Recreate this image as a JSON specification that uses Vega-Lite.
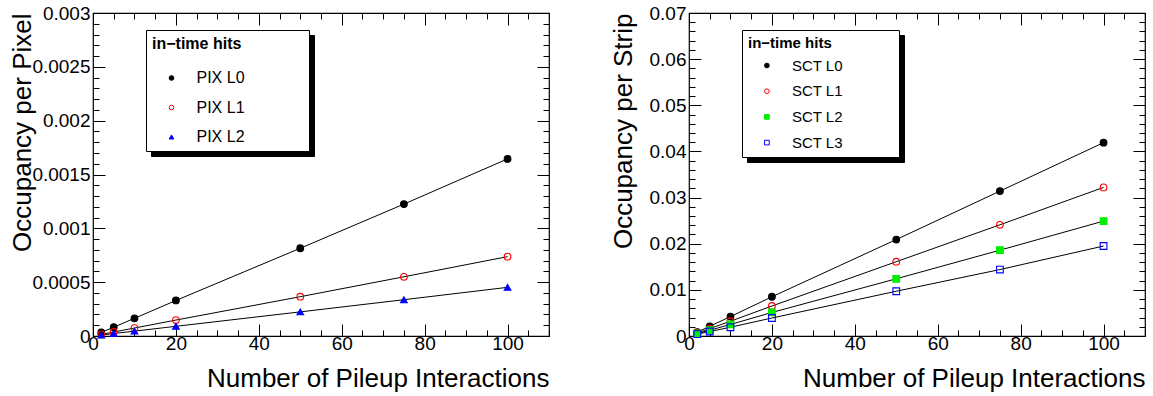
{
  "$schema": "https://vega.github.io/schema/vega-lite/v6.json",
  "padding": {"left": 8, "top": 3, "right": 4, "bottom": 2},
  "spacing": 58,
  "resolve": {
    "scale": {"fill": "independent", "stroke": "independent", "shape": "independent", "color": "independent"},
    "legend": {"fill": "independent", "stroke": "independent", "shape": "independent", "color": "independent"}
  },
  "config": {
    "view": {"stroke": "black", "strokeWidth": 1.2},
    "font": "Liberation Sans",
    "axis": {
      "labelFont": "Liberation Sans", "titleFont": "Liberation Sans",
      "labelFontSize": 19, "titleFontSize": 26, "titleFontWeight": "normal",
      "labelColor": "black", "titleColor": "black", "tickColor": "black", "tickWidth": 1,
      "domain": false, "grid": false, "labelFlush": false, "labelOverlap": false, "zindex": 1
    },
    "legend": {
      "orient": "none", "fillColor": "white", "strokeColor": "black", "padding": 6,
      "titleFont": "Liberation Sans", "titleFontWeight": "bold", "titleColor": "black",
      "labelFont": "Liberation Sans", "labelColor": "black",
      "symbolSize": 22, "symbolStrokeWidth": 1
    }
  },
  "datasets": {
    "pix": [
      {"n": 2, "occ": 0.000033, "series": "PIX L0"},
      {"n": 5, "occ": 0.000082, "series": "PIX L0"},
      {"n": 10, "occ": 0.000164, "series": "PIX L0"},
      {"n": 20, "occ": 0.00033, "series": "PIX L0"},
      {"n": 50, "occ": 0.000815, "series": "PIX L0"},
      {"n": 75, "occ": 0.001225, "series": "PIX L0"},
      {"n": 100, "occ": 0.001645, "series": "PIX L0"},
      {"n": 2, "occ": 0.000015, "series": "PIX L1"},
      {"n": 5, "occ": 0.000037, "series": "PIX L1"},
      {"n": 10, "occ": 0.000074, "series": "PIX L1"},
      {"n": 20, "occ": 0.000148, "series": "PIX L1"},
      {"n": 50, "occ": 0.000365, "series": "PIX L1"},
      {"n": 75, "occ": 0.00055, "series": "PIX L1"},
      {"n": 100, "occ": 0.000737, "series": "PIX L1"},
      {"n": 2, "occ": 0.000009, "series": "PIX L2"},
      {"n": 5, "occ": 0.000023, "series": "PIX L2"},
      {"n": 10, "occ": 0.000045, "series": "PIX L2"},
      {"n": 20, "occ": 0.00009, "series": "PIX L2"},
      {"n": 50, "occ": 0.000224, "series": "PIX L2"},
      {"n": 75, "occ": 0.000337, "series": "PIX L2"},
      {"n": 100, "occ": 0.000452, "series": "PIX L2"}
    ],
    "sct": [
      {"n": 2, "occ": 0.00085, "series": "SCT L0"},
      {"n": 5, "occ": 0.0021, "series": "SCT L0"},
      {"n": 10, "occ": 0.0042, "series": "SCT L0"},
      {"n": 20, "occ": 0.0085, "series": "SCT L0"},
      {"n": 50, "occ": 0.0209, "series": "SCT L0"},
      {"n": 75, "occ": 0.0314, "series": "SCT L0"},
      {"n": 100, "occ": 0.0419, "series": "SCT L0"},
      {"n": 2, "occ": 0.00065, "series": "SCT L1"},
      {"n": 5, "occ": 0.0016, "series": "SCT L1"},
      {"n": 10, "occ": 0.0032, "series": "SCT L1"},
      {"n": 20, "occ": 0.0065, "series": "SCT L1"},
      {"n": 50, "occ": 0.0161, "series": "SCT L1"},
      {"n": 75, "occ": 0.0241, "series": "SCT L1"},
      {"n": 100, "occ": 0.0322, "series": "SCT L1"},
      {"n": 2, "occ": 0.0005, "series": "SCT L2"},
      {"n": 5, "occ": 0.00125, "series": "SCT L2"},
      {"n": 10, "occ": 0.0025, "series": "SCT L2"},
      {"n": 20, "occ": 0.0051, "series": "SCT L2"},
      {"n": 50, "occ": 0.0124, "series": "SCT L2"},
      {"n": 75, "occ": 0.0186, "series": "SCT L2"},
      {"n": 100, "occ": 0.0249, "series": "SCT L2"},
      {"n": 2, "occ": 0.0004, "series": "SCT L3"},
      {"n": 5, "occ": 0.00097, "series": "SCT L3"},
      {"n": 10, "occ": 0.0019, "series": "SCT L3"},
      {"n": 20, "occ": 0.0039, "series": "SCT L3"},
      {"n": 50, "occ": 0.0097, "series": "SCT L3"},
      {"n": 75, "occ": 0.0144, "series": "SCT L3"},
      {"n": 100, "occ": 0.0195, "series": "SCT L3"}
    ]
  },
  "hconcat": [
    {
      "width": 456,
      "height": 323,
      "data": {"name": "pix"},
      "layer": [
        {
          "mark": {"type": "line", "color": "black", "strokeWidth": 1},
          "encoding": {
            "x": {
              "field": "n", "type": "quantitative",
              "scale": {"domain": [0, 110], "nice": false, "zero": false},
              "axis": {
                "values": [0,5,10,15,20,25,30,35,40,45,50,55,60,65,70,75,80,85,90,95,100,105,110],
                "tickSize": {"condition": {"test": "datum.value % 20 === 0", "value": -12}, "value": -6},
                "labelExpr": "datum.value % 20 === 0 && datum.value <= 100 ? format(datum.value, 'd') : ''",
                "labelPadding": 10.5,
                "title": "Number of Pileup Interactions",
                "titleAnchor": "end", "titleAlign": "right", "titleBaseline": "alphabetic",
                "titleX": 456, "titleY": 50
              }
            },
            "y": {
              "field": "occ", "type": "quantitative",
              "scale": {"domain": [0, 0.003], "nice": false, "zero": false},
              "axis": {
                "values": [0,0.0001,0.0002,0.0003,0.0004,0.0005,0.0006,0.0007,0.0008,0.0009,0.001,0.0011,0.0012,0.0013,0.0014,0.0015,0.0016,0.0017,0.0018,0.0019,0.002,0.0021,0.0022,0.0023,0.0024,0.0025,0.0026,0.0027,0.0028,0.0029,0.003],
                "tickSize": {"condition": {"test": "abs(datum.value*2000 - round(datum.value*2000)) < 1e-6", "value": -12}, "value": -6},
                "labelExpr": "abs(datum.value*2000 - round(datum.value*2000)) < 1e-6 ? format(datum.value, '~g') : ''",
                "labelPadding": 15,
                "title": "Occupancy per Pixel",
                "titleAnchor": "end", "titleAlign": "right", "titleBaseline": "alphabetic",
                "titleAngle": 270, "titleX": -63, "titleY": 0
              }
            },
            "detail": {"field": "series"}
          }
        },
        {
          "mark": {"type": "point", "filled": true, "size": 45, "strokeWidth": 1.1, "opacity": 1},
          "encoding": {
            "x": {"field": "n", "type": "quantitative", "axis": null},
            "y": {"field": "occ", "type": "quantitative", "axis": null},
            "fill": {
              "field": "series", "type": "nominal",
              "scale": {"domain": ["PIX L0", "PIX L1", "PIX L2"], "range": ["black", "transparent", "blue"]},
              "legend": {"title": "in−time hits", "legendX": 53, "legendY": 17, "titleFontSize": 16, "labelFontSize": 16, "rowPadding": 13.5, "titlePadding": 18, "symbolOffset": 11.5, "labelOffset": 17, "zindex": 3,
                "labelExpr": "datum.label + '\u00a0\u00a0\u00a0\u00a0\u00a0\u00a0\u00a0\u00a0\u00a0\u00a0\u00a0\u00a0\u00a0\u200b'"}
            },
            "stroke": {
              "field": "series", "type": "nominal",
              "scale": {"domain": ["PIX L0", "PIX L1", "PIX L2"], "range": ["black", "red", "blue"]},
              "legend": {"title": "in−time hits", "legendX": 53, "legendY": 17, "titleFontSize": 16, "labelFontSize": 16, "rowPadding": 13.5, "titlePadding": 18, "symbolOffset": 11.5, "labelOffset": 17, "zindex": 3,
                "labelExpr": "datum.label + '\u00a0\u00a0\u00a0\u00a0\u00a0\u00a0\u00a0\u00a0\u00a0\u00a0\u00a0\u00a0\u00a0\u200b'"}
            },
            "shape": {
              "field": "series", "type": "nominal",
              "scale": {"domain": ["PIX L0", "PIX L1", "PIX L2"], "range": ["circle", "circle", "triangle-up"]},
              "legend": {"title": "in−time hits", "legendX": 53, "legendY": 17, "titleFontSize": 16, "labelFontSize": 16, "rowPadding": 13.5, "titlePadding": 18, "symbolOffset": 11.5, "labelOffset": 17, "zindex": 3,
                "labelExpr": "datum.label + '\u00a0\u00a0\u00a0\u00a0\u00a0\u00a0\u00a0\u00a0\u00a0\u00a0\u00a0\u00a0\u00a0\u200b'"}
            }
          }
        },
        {
          "mark": {"type": "point", "size": 45, "opacity": 0},
          "encoding": {
            "x": {
              "field": "n", "type": "quantitative",
              "axis": {
                "orient": "top", "labels": false, "title": null,
                "values": [0,5,10,15,20,25,30,35,40,45,50,55,60,65,70,75,80,85,90,95,100,105,110],
                "tickSize": {"condition": {"test": "datum.value % 20 === 0", "value": -12}, "value": -6}
              }
            },
            "y": {
              "field": "occ", "type": "quantitative",
              "axis": {
                "orient": "right", "labels": false, "title": null,
                "values": [0,0.0001,0.0002,0.0003,0.0004,0.0005,0.0006,0.0007,0.0008,0.0009,0.001,0.0011,0.0012,0.0013,0.0014,0.0015,0.0016,0.0017,0.0018,0.0019,0.002,0.0021,0.0022,0.0023,0.0024,0.0025,0.0026,0.0027,0.0028,0.0029,0.003],
                "tickSize": {"condition": {"test": "abs(datum.value*2000 - round(datum.value*2000)) < 1e-6", "value": -12}, "value": -6}
              }
            },
            "color": {
              "field": "series", "type": "nominal",
              "scale": {"range": ["black", "black", "black"]},
              "legend": {"title": "in−time hits", "legendX": 58, "legendY": 22, "titleFontSize": 16, "labelFontSize": 16, "rowPadding": 13.5, "titlePadding": 18, "symbolOffset": 11.5, "labelOffset": 17, "zindex": 2,
                "fillColor": "black", "strokeColor": "black", "titleColor": "black", "labelColor": "black",
                "labelExpr": "datum.label + '\u00a0\u00a0\u00a0\u00a0\u00a0\u00a0\u00a0\u00a0\u00a0\u00a0\u00a0\u00a0\u00a0\u200b'"}
            }
          }
        }
      ],
      "resolve": {"axis": {"x": "independent", "y": "independent"}}
    },
    {
      "width": 456,
      "height": 323,
      "data": {"name": "sct"},
      "layer": [
        {
          "mark": {"type": "line", "color": "black", "strokeWidth": 1},
          "encoding": {
            "x": {
              "field": "n", "type": "quantitative",
              "scale": {"domain": [0, 110], "nice": false, "zero": false},
              "axis": {
                "values": [0,5,10,15,20,25,30,35,40,45,50,55,60,65,70,75,80,85,90,95,100,105,110],
                "tickSize": {"condition": {"test": "datum.value % 20 === 0", "value": -12}, "value": -6},
                "labelExpr": "datum.value % 20 === 0 && datum.value <= 100 ? format(datum.value, 'd') : ''",
                "labelPadding": 10.5,
                "title": "Number of Pileup Interactions",
                "titleAnchor": "end", "titleAlign": "right", "titleBaseline": "alphabetic",
                "titleX": 456, "titleY": 50
              }
            },
            "y": {
              "field": "occ", "type": "quantitative",
              "scale": {"domain": [0, 0.07], "nice": false, "zero": false},
              "axis": {
                "values": [0,0.002,0.004,0.006,0.008,0.01,0.012,0.014,0.016,0.018,0.02,0.022,0.024,0.026,0.028,0.03,0.032,0.034,0.036,0.038,0.04,0.042,0.044,0.046,0.048,0.05,0.052,0.054,0.056,0.058,0.06,0.062,0.064,0.066,0.068,0.07],
                "tickSize": {"condition": {"test": "abs(datum.value*100 - round(datum.value*100)) < 1e-6", "value": -12}, "value": -6},
                "labelExpr": "abs(datum.value*100 - round(datum.value*100)) < 1e-6 ? format(datum.value, '~g') : ''",
                "labelPadding": 15,
                "title": "Occupancy per Strip",
                "titleAnchor": "end", "titleAlign": "right", "titleBaseline": "alphabetic",
                "titleAngle": 270, "titleX": -58, "titleY": 0
              }
            },
            "detail": {"field": "series"}
          }
        },
        {
          "mark": {"type": "point", "filled": true, "size": 45, "strokeWidth": 1.1, "opacity": 1},
          "encoding": {
            "x": {"field": "n", "type": "quantitative", "axis": null},
            "y": {"field": "occ", "type": "quantitative", "axis": null},
            "fill": {
              "field": "series", "type": "nominal",
              "scale": {"domain": ["SCT L0", "SCT L1", "SCT L2", "SCT L3"], "range": ["black", "transparent", "#00ee00", "transparent"]},
              "legend": {"title": "in−time hits", "legendX": 53, "legendY": 17, "titleFontSize": 15, "labelFontSize": 15, "rowPadding": 9.7, "titlePadding": 7, "symbolOffset": 11.4, "labelOffset": 17.5, "zindex": 3,
                "labelExpr": "datum.label + '\u00a0\u00a0\u00a0\u00a0\u00a0\u00a0\u00a0\u00a0\u00a0\u00a0\u00a0\u00a0\u200b'"}
            },
            "stroke": {
              "field": "series", "type": "nominal",
              "scale": {"domain": ["SCT L0", "SCT L1", "SCT L2", "SCT L3"], "range": ["black", "red", "#00ee00", "blue"]},
              "legend": {"title": "in−time hits", "legendX": 53, "legendY": 17, "titleFontSize": 15, "labelFontSize": 15, "rowPadding": 9.7, "titlePadding": 7, "symbolOffset": 11.4, "labelOffset": 17.5, "zindex": 3,
                "labelExpr": "datum.label + '\u00a0\u00a0\u00a0\u00a0\u00a0\u00a0\u00a0\u00a0\u00a0\u00a0\u00a0\u00a0\u200b'"}
            },
            "shape": {
              "field": "series", "type": "nominal",
              "scale": {"domain": ["SCT L0", "SCT L1", "SCT L2", "SCT L3"], "range": ["circle", "circle", "square", "square"]},
              "legend": {"title": "in−time hits", "legendX": 53, "legendY": 17, "titleFontSize": 15, "labelFontSize": 15, "rowPadding": 9.7, "titlePadding": 7, "symbolOffset": 11.4, "labelOffset": 17.5, "zindex": 3,
                "labelExpr": "datum.label + '\u00a0\u00a0\u00a0\u00a0\u00a0\u00a0\u00a0\u00a0\u00a0\u00a0\u00a0\u00a0\u200b'"}
            }
          }
        },
        {
          "mark": {"type": "point", "size": 45, "opacity": 0},
          "encoding": {
            "x": {
              "field": "n", "type": "quantitative",
              "axis": {
                "orient": "top", "labels": false, "title": null,
                "values": [0,5,10,15,20,25,30,35,40,45,50,55,60,65,70,75,80,85,90,95,100,105,110],
                "tickSize": {"condition": {"test": "datum.value % 20 === 0", "value": -12}, "value": -6}
              }
            },
            "y": {
              "field": "occ", "type": "quantitative",
              "axis": {
                "orient": "right", "labels": false, "title": null,
                "values": [0,0.002,0.004,0.006,0.008,0.01,0.012,0.014,0.016,0.018,0.02,0.022,0.024,0.026,0.028,0.03,0.032,0.034,0.036,0.038,0.04,0.042,0.044,0.046,0.048,0.05,0.052,0.054,0.056,0.058,0.06,0.062,0.064,0.066,0.068,0.07],
                "tickSize": {"condition": {"test": "abs(datum.value*100 - round(datum.value*100)) < 1e-6", "value": -12}, "value": -6}
              }
            },
            "color": {
              "field": "series", "type": "nominal",
              "scale": {"range": ["black", "black", "black", "black"]},
              "legend": {"title": "in−time hits", "legendX": 58, "legendY": 22, "titleFontSize": 15, "labelFontSize": 15, "rowPadding": 9.7, "titlePadding": 7, "symbolOffset": 11.4, "labelOffset": 17.5, "zindex": 2,
                "fillColor": "black", "strokeColor": "black", "titleColor": "black", "labelColor": "black",
                "labelExpr": "datum.label + '\u00a0\u00a0\u00a0\u00a0\u00a0\u00a0\u00a0\u00a0\u00a0\u00a0\u00a0\u00a0\u200b'"}
            }
          }
        }
      ],
      "resolve": {"axis": {"x": "independent", "y": "independent"}}
    }
  ]
}
